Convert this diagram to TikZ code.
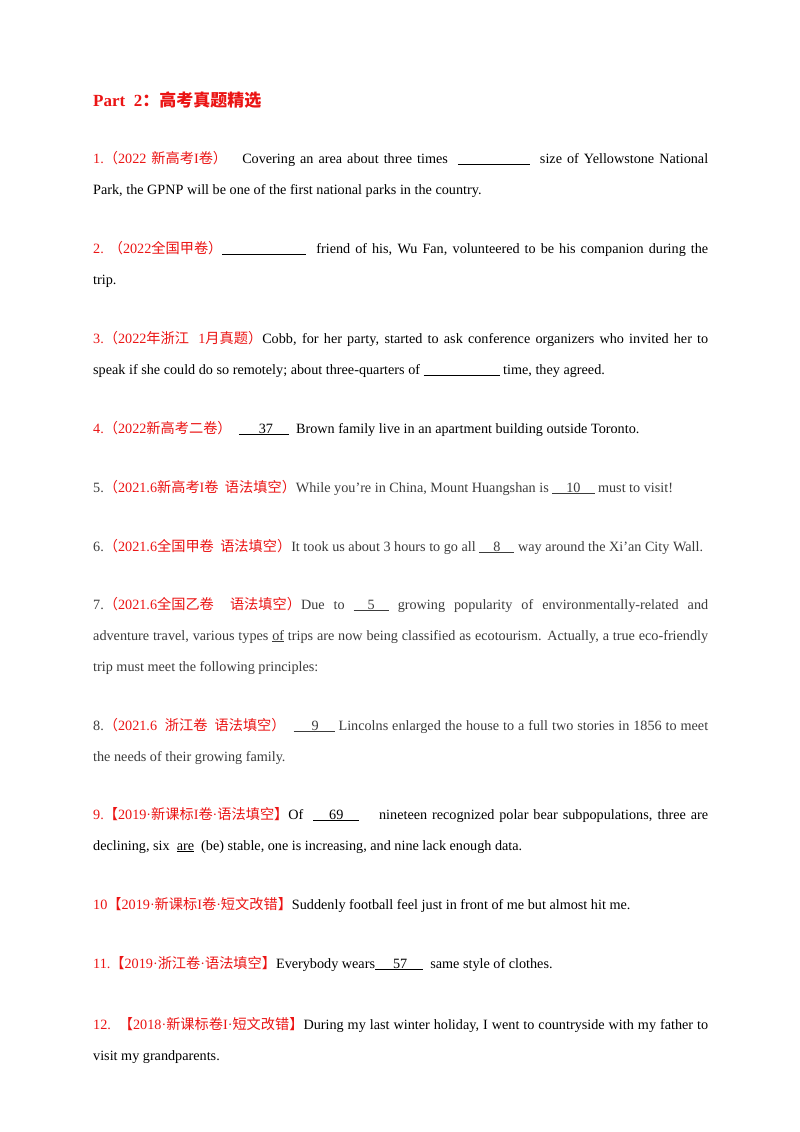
\documentclass[tikz,border=0pt]{standalone}
\usepackage{fontspec}
\setmainfont{Liberation Serif}[Ligatures=NoCommon]
\newfontfamily\cjk{Noto Sans CJK SC}
\newcommand{\zh}[1]{{\cjk #1}}
\newcommand{\bl}[1]{\underline{\hspace{#1}}}
\newcommand{\ans}[3]{\underline{\hspace{#1}#2\hspace{#3}}}
\newcommand{\md}{{\fontspec{Liberation Serif}\char"00B7}}
\definecolor{rd}{RGB}{235,20,20}
\definecolor{gy}{RGB}{60,60,60}
\hyphenpenalty=10000
\tikzset{para/.style={anchor=base west,inner sep=0pt,text width=615pt,align=justify,font=\fontsize{14.2}{31}\selectfont}}
\begin{document}
\begin{tikzpicture}[x=1pt,y=-1pt]
\useasboundingbox[fill=white] (0,0) rectangle (800,1132);
\node[anchor=base west,inner sep=0pt,font=\fontsize{17}{20}\selectfont\bfseries,text=rd] (t) at (93,106) {Part\ \ 2\zh{：高考真题精选}};
\node[para] (q1) at (93,163) {\textcolor{rd}{1.\zh{（}2022 \zh{新高考}I\zh{卷）}}\ \ \ Covering an area about three times \ \bl{72pt}\ \ size of Yellowstone National\linebreak Park, the GPNP will be one of the first national parks in the country.};
\node[para] (q2) at (93,253) {\textcolor{rd}{2.\ \zh{（}2022\zh{全国甲卷）}}\bl{84pt}\ \ friend of his, Wu Fan, volunteered to be his companion during the\linebreak trip.};
\node[para] (q3) at (93,343) {\textcolor{rd}{3.\zh{（}2022\zh{年浙江\ \ }1\zh{月真题）}}Cobb, for her party, started to ask conference organizers who invited her to\linebreak speak if she could do so remotely; about three-quarters of \bl{76pt}\ time, they agreed.};
\node[para] (q4) at (93,433) {\textcolor{rd}{4.\zh{（}2022\zh{新高考二卷）}}\ \ \ans{20pt}{37}{16pt}\ \ Brown family live in an apartment building outside Toronto.};
\node[para,text=gy] (q5) at (93,492) {5.\textcolor{rd}{\zh{（}2021.6\zh{新高考}I\zh{卷\ \ 语法填空）}}While you're in China, Mount Huangshan is \ans{14pt}{10}{14pt}\ must to visit!};
\node[para,text=gy] (q6) at (93,551) {6.\textcolor{rd}{\zh{（}2021.6\zh{全国甲卷\ \ 语法填空）}}It took us about 3 hours to go all \ans{14pt}{8}{14pt}\ way around the Xi'an City Wall.};
\node[para,text=gy] (q7) at (93,609) {7.\textcolor{rd}{\zh{（}2021.6\zh{全国乙卷\ \ 语法填空）}}Due to \ans{14pt}{5}{14pt}\ growing popularity of environmentally-related and\linebreak adventure travel, various types \underline{of} trips are now being classified as ecotourism. Actually, a true eco-friendly\linebreak trip must meet the following principles:};
\node[para,text=gy] (q8) at (93,730) {8.\textcolor{rd}{\zh{（}2021.6\ \ \zh{浙江卷\ \ 语法填空）}}\ \ \ans{18pt}{9}{16pt}\ Lincolns enlarged the house to a full two stories in 1856 to meet\linebreak the needs of their growing family.};
\node[para] (q9) at (93,819) {\textcolor{rd}{9.\zh{【}2019\md\zh{新课标}I\zh{卷}\md\zh{语法填空】}}Of \ \ans{16pt}{69}{16pt}\ \ \ \ nineteen recognized polar bear subpopulations, three are\linebreak declining, six \ \underline{are}\ \ (be) stable, one is increasing, and nine lack enough data.};
\node[para] (q10) at (93,909) {\textcolor{rd}{10\zh{【}2019\md\zh{新课标}I\zh{卷}\md\zh{短文改错】}}Suddenly football feel just in front of me but almost hit me.};
\node[para] (q11) at (93,968) {\textcolor{rd}{11.\zh{【}2019\md\zh{浙江卷}\md\zh{语法填空】}}Everybody wears\ans{18pt}{57}{16pt}\ \ same style of clothes.};
\node[para] (q12) at (93,1029) {\textcolor{rd}{12.\ \ \zh{【}2018\md\zh{新课标卷}I\md\zh{短文改错】}}During my last winter holiday, I went to countryside with my father to\linebreak visit my grandparents.};
\end{tikzpicture}
\end{document}
